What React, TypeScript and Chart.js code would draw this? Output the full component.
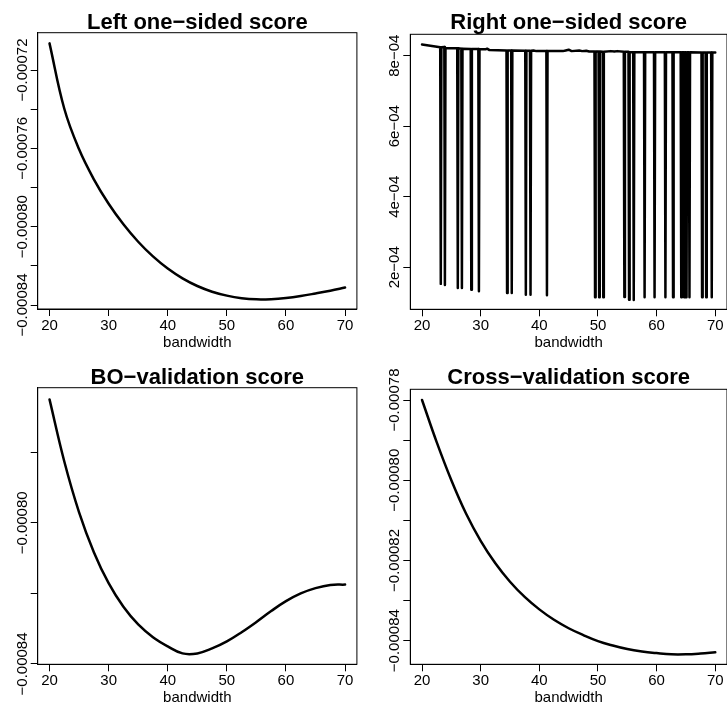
import React, { useEffect, useRef } from "react";
import { Chart, registerables } from "chart.js";

Chart.register(...registerables);

// ---------- data ----------
const bandwidth = [20, 22.5, 25, 27.5, 30, 32.5, 35, 37.5, 40, 42.5, 45, 47.5, 50, 52.5, 55, 57.5, 60, 62.5, 65, 67.5, 70];

const leftScore = [
  -0.0007064, -0.0007398, -0.0007605, -0.0007758, -0.0007883, -0.0007988, -0.0008077, -0.0008152, -0.0008214,
  -0.0008264, -0.0008303, -0.0008332, -0.0008352, -0.0008365, -0.0008371, -0.000837, -0.0008364,
  -0.0008354, -0.0008341, -0.0008327, -0.0008311,
];

const boScore = [
  -0.000765, -0.0007826, -0.000797, -0.0008083, -0.0008171, -0.0008238, -0.0008288, -0.0008324, -0.000835,
  -0.000837, -0.000837, -0.0008356, -0.0008336, -0.000831, -0.0008281, -0.000825, -0.0008222,
  -0.00082, -0.0008185, -0.0008176, -0.0008175,
];

const cvScore = [
  -0.00078, -0.0007905, -0.0008, -0.0008083, -0.0008151, -0.0008207, -0.0008253, -0.0008291, -0.0008322,
  -0.0008348, -0.0008369, -0.0008386, -0.0008401, -0.0008412, -0.0008421, -0.0008427, -0.0008431,
  -0.0008434, -0.0008434, -0.0008432, -0.0008429,
];

const rightX = [
  20.0, 23.1, 23.2, 23.3, 23.8, 23.9, 24.0, 26.0, 26.1, 26.2, 26.7, 26.8, 26.9, 28.3, 28.4, 28.5,
  29.6, 29.7, 29.8, 30.8, 31.1, 31.5, 34.4, 34.5, 34.6, 35.2, 35.3, 35.4, 37.6, 37.7, 37.8, 38.4,
  38.5, 38.6, 39.0, 39.5, 41.2, 41.3, 41.4, 44.0, 44.5, 45.0, 45.5, 46.8, 47.3, 48.0, 48.5, 49.4,
  49.5, 49.6, 50.1, 50.2, 50.3, 50.8, 50.9, 51.0, 52.2, 52.8, 53.3, 54.4, 54.5, 54.6, 55.2, 55.3,
  55.4, 56.0, 56.1, 56.2, 57.85, 57.95, 58.05, 59.55, 59.65, 59.75, 61.4, 61.5, 61.6, 62.7, 62.8,
  62.9, 64.1, 64.2, 64.3, 64.6, 64.7, 64.8, 65.0, 65.1, 65.2, 65.5, 65.6, 65.7, 67.65, 67.75, 67.85,
  68.35, 68.45, 68.55, 69.3, 69.4, 69.5, 70.0,
];
const rightY = [
  8.32e-4, 8.24e-4, 1.53e-4, 8.24e-4, 8.25e-4, 1.5e-4, 8.22e-4, 8.21e-4, 1.41e-4, 8.21e-4, 8.2e-4, 1.41e-4, 8.2e-4, 8.19e-4, 1.36e-4, 8.19e-4,
  8.19e-4, 1.32e-4, 8.18e-4, 8.18e-4, 8.2e-4, 8.16e-4, 8.15e-4, 1.27e-4, 8.15e-4, 8.15e-4, 1.27e-4, 8.15e-4, 8.14e-4, 1.22e-4, 8.14e-4, 8.14e-4,
  1.22e-4, 8.14e-4, 8.15e-4, 8.13e-4, 8.13e-4, 1.21e-4, 8.13e-4, 8.13e-4, 8.15e-4, 8.17e-4, 8.13e-4, 8.15e-4, 8.13e-4, 8.14e-4, 8.12e-4, 8.12e-4,
  1.15e-4, 8.12e-4, 8.12e-4, 1.15e-4, 8.12e-4, 8.11e-4, 1.15e-4, 8.11e-4, 8.13e-4, 8.12e-4, 8.13e-4, 8.11e-4, 1.16e-4, 8.11e-4, 8.11e-4, 1.08e-4,
  8.1e-4, 8.1e-4, 1.07e-4, 8.1e-4, 8.1e-4, 1.15e-4, 8.1e-4, 8.1e-4, 1.15e-4, 8.1e-4, 8.1e-4, 1.15e-4, 8.1e-4, 8.1e-4, 1.15e-4,
  8.1e-4, 8.1e-4, 1.15e-4, 8.1e-4, 8.1e-4, 1.15e-4, 8.1e-4, 8.1e-4, 1.15e-4, 8.1e-4, 8.1e-4, 1.15e-4, 8.1e-4, 8.09e-4, 1.15e-4, 8.09e-4,
  8.09e-4, 1.15e-4, 8.09e-4, 8.09e-4, 1.15e-4, 8.09e-4, 8.09e-4,
];

const xTicks = [20, 30, 40, 50, 60, 70];
const xTitle = "bandwidth";

const leftYTicks = [-0.00072, -0.00074, -0.00076, -0.00078, -0.0008, -0.00082, -0.00084];
const leftYLabels = ["\u22120.00072", "", "\u22120.00076", "", "\u22120.00080", "", "\u22120.00084"];
const rightYTicks = [2e-4, 4e-4, 6e-4, 8e-4];
const rightYLabels = ["2e\u221204", "4e\u221204", "6e\u221204", "8e\u221204"];
const boYTicks = [-0.00078, -0.0008, -0.00082, -0.00084];
const boYLabels = ["", "\u22120.00080", "", "\u22120.00084"];
const cvYTicks = [-0.00078, -0.00079, -0.0008, -0.00081, -0.00082, -0.00083, -0.00084];
const cvYLabels = ["\u22120.00078", "", "\u22120.00080", "", "\u22120.00082", "", "\u22120.00084"];

const titles = [
  "Left one\u2212sided score",
  "Right one\u2212sided score",
  "BO\u2212validation score",
  "Cross\u2212validation score",
];

// ---------- layout / style ----------
const W = 727;
const H = 710;
const TICK = 7;
const XH = 43;
const FAMILY = '"Liberation Sans", Arial, Helvetica, sans-serif';

type Panel = {
  title: string;
  xs: number[];
  ys: number[];
  yTicks: number[];
  yLabels: string[];
  box: { l: number; r: number; t: number; b: number };
  yMin: number;
  yMax: number;
  smooth: boolean;
  titleY: number;
  labelX: number;
};

const panels: Panel[] = [
  {
    title: titles[0], xs: bandwidth, ys: leftScore, yTicks: leftYTicks, yLabels: leftYLabels,
    box: { l: 37.7, r: 356.9, t: 32.7, b: 309.0 }, yMin: -0.00084204, yMax: -0.00070095,
    smooth: true, titleY: 29.3, labelX: 26.5,
  },
  {
    title: titles[1], xs: rightX, ys: rightY, yTicks: rightYTicks, yLabels: rightYLabels,
    box: { l: 410.3, r: 727.0, t: 34.3, b: 309.3 }, yMin: 0.809e-4, yMax: 8.607e-4,
    smooth: false, titleY: 29.3, labelX: 398.5,
  },
  {
    title: titles[2], xs: bandwidth, ys: boScore, yTicks: boYTicks, yLabels: boYLabels,
    box: { l: 37.7, r: 356.9, t: 387.7, b: 664.3 }, yMin: -0.00084009, yMax: -0.00076168,
    smooth: true, titleY: 384.3, labelX: 26.5,
  },
  {
    title: titles[3], xs: bandwidth, ys: cvScore, yTicks: cvYTicks, yLabels: cvYLabels,
    box: { l: 410.3, r: 727.0, t: 389.3, b: 664.3 }, yMin: -0.00084589, yMax: -0.00077733,
    smooth: true, titleY: 384.3, labelX: 398.5,
  },
];

const decor = {
  id: "rDecor",
  afterDraw(chart: any, _args: any, opts: any) {
    const { ctx, chartArea: a } = chart;
    const y = chart.scales.y;
    ctx.save();
    ctx.strokeStyle = "#000";
    ctx.lineWidth = 1;
    ctx.strokeRect(a.left, a.top, a.right - a.left, a.bottom - a.top);
    ctx.fillStyle = "#000";
    ctx.font = `bold 22px ${FAMILY}`;
    ctx.textAlign = "center";
    ctx.textBaseline = "alphabetic";
    ctx.fillText(opts.title, (a.left + a.right) / 2, opts.titleY);
    ctx.font = `15px ${FAMILY}`;
    opts.ticks.forEach((v: number, i: number) => {
      const lab = opts.labels[i];
      if (!lab) return;
      const py = y.getPixelForValue(v);
      ctx.save();
      ctx.translate(opts.labelX, py);
      ctx.rotate(-Math.PI / 2);
      ctx.textAlign = "center";
      ctx.textBaseline = "alphabetic";
      ctx.fillText(lab, 0, 0);
      ctx.restore();
    });
    ctx.restore();
  },
};

function PanelChart({ p }: { p: Panel }) {
  const ref = useRef<HTMLCanvasElement | null>(null);
  useEffect(() => {
    if (!ref.current) return;
    const gridOpts = {
      drawOnChartArea: false,
      drawTicks: true,
      tickLength: TICK,
      color: "#000",
      lineWidth: 1,
    };
    const chart = new Chart(ref.current, {
      type: "line",
      data: {
        datasets: [
          {
            data: p.xs.map((x, i) => ({ x, y: p.ys[i] })),
            borderColor: "#000",
            borderWidth: 2.5,
            pointRadius: 0,
            fill: false,
            cubicInterpolationMode: "default",
            tension: p.smooth ? 0.4 : 0,
            borderJoinStyle: "round",
            borderCapStyle: "round",
          },
        ],
      },
      options: {
        animation: false,
        responsive: false,
        maintainAspectRatio: false,
        devicePixelRatio: 1,
        events: [],
        layout: {
          padding: {
            left: p.box.l - TICK,
            top: p.box.t,
            right: W - p.box.r,
            bottom: H - p.box.b - XH,
          },
        },
        plugins: {
          legend: { display: false },
          tooltip: { enabled: false },
          title: { display: false },
          rDecor: {
            title: p.title,
            titleY: p.titleY,
            labelX: p.labelX,
            ticks: p.yTicks,
            labels: p.yLabels,
          },
        } as any,
        scales: {
          x: {
            type: "linear",
            min: 18,
            max: 72,
            afterBuildTicks: (s: any) => {
              s.ticks = xTicks.map((v) => ({ value: v }));
            },
            afterFit: (s: any) => {
              s.height = XH;
            },
            grid: gridOpts,
            border: { display: true, color: "#000", width: 1 },
            ticks: {
              autoSkip: false,
              maxRotation: 0,
              minRotation: 0,
              padding: 1,
              color: "#000",
              font: { family: FAMILY, size: 15 },
            },
            title: {
              display: true,
              text: xTitle,
              color: "#000",
              padding: 0,
              font: { family: FAMILY, size: 15 },
            },
          },
          y: {
            type: "linear",
            min: p.yMin,
            max: p.yMax,
            afterBuildTicks: (s: any) => {
              s.ticks = p.yTicks.map((v) => ({ value: v }));
            },
            afterFit: (s: any) => {
              s.width = TICK;
            },
            grid: gridOpts,
            border: { display: true, color: "#000", width: 1 },
            ticks: { display: false },
          },
        },
      } as any,
      plugins: [decor as any],
    });
    return () => chart.destroy();
  }, [p]);
  return (
    <canvas
      ref={ref}
      width={W}
      height={H}
      style={{ position: "absolute", left: 0, top: 0, width: W, height: H }}
    />
  );
}

export default function App() {
  return (
    <div style={{ position: "absolute", left: 0, top: 0, width: W, height: H, background: "#fff", overflow: "hidden" }}>
      {panels.map((p, i) => (
        <PanelChart key={i} p={p} />
      ))}
    </div>
  );
}
